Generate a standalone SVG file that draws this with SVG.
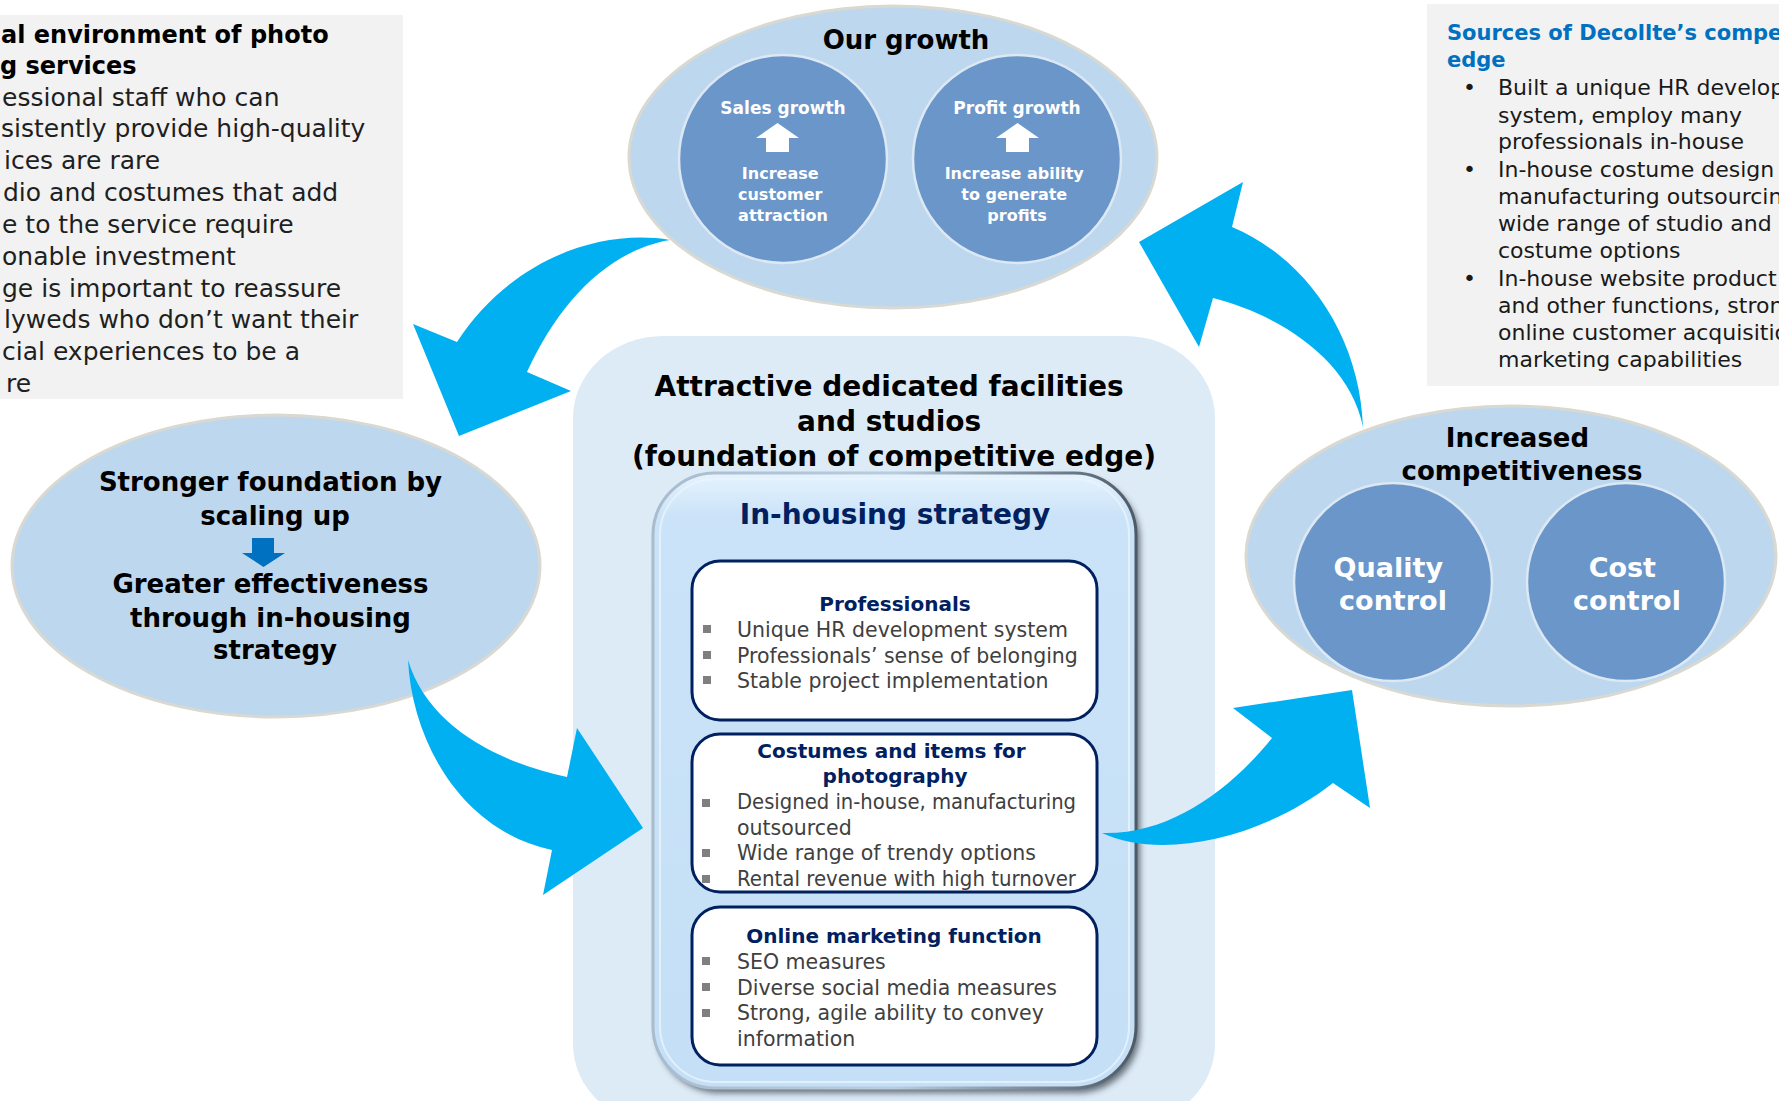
<svg xmlns="http://www.w3.org/2000/svg" width="1779" height="1101" viewBox="0 0 1779 1101">
  <defs>
    <style>
      text { font-family: "DejaVu Sans", Verdana, sans-serif; }
      .bold { font-weight: bold; }
      .mid { text-anchor: middle; }
      .panel { fill: #f2f2f2; }
      .oval { fill: #bdd7ee; stroke: #d9d9d2; stroke-width: 3; }
      .disc { fill: #6a96c9; stroke: #dce8f4; stroke-width: 2.5; }
      .flow { fill: #00b0f0; }
      .card { fill: #ffffff; stroke: #002060; stroke-width: 3; }
      .head { fill: #002060; font-weight: bold; font-size: 20px; text-anchor: middle; }
      .item { fill: #404040; font-size: 20.5px; }
      .sq { fill: #7f7f7f; }
      .big { font-size: 26px; font-weight: bold; text-anchor: middle; fill: #000000; }
      .title { font-size: 28px; font-weight: bold; text-anchor: middle; fill: #000000; }
      .wt { fill: #ffffff; font-weight: bold; text-anchor: middle; }
      .note { font-size: 25px; fill: #1f1f1f; }
      .src { font-size: 22px; fill: #1a1a1a; }
    </style>
    <linearGradient id="inFill" x1="0" y1="0" x2="0" y2="1">
      <stop offset="0" stop-color="#e6f3fd"/>
      <stop offset="0.07" stop-color="#cbe3f8"/>
      <stop offset="1" stop-color="#c4dff6"/>
    </linearGradient>
    <linearGradient id="inEdge" x1="0" y1="0" x2="1" y2="0">
      <stop offset="0" stop-color="#a9bccd"/>
      <stop offset="0.5" stop-color="#b9cde0"/>
      <stop offset="1" stop-color="#4e5a66"/>
    </linearGradient>
    <filter id="drop" x="-10%" y="-10%" width="120%" height="120%">
      <feGaussianBlur stdDeviation="3"/>
    </filter>
  </defs>

  <!-- side notes -->
  <g id="note-environment">
    <rect class="panel" x="0" y="15" width="403" height="384"/>
    <text class="bold" font-size="24" fill="#000000">
      <tspan x="1" y="43">al environment of photo</tspan>
      <tspan x="0" y="74">g services</tspan>
    </text>
    <text class="note">
      <tspan x="2" y="106">essional staff who can</tspan>
      <tspan x="1" y="137">sistently provide high-quality</tspan>
      <tspan x="4" y="169">ices are rare</tspan>
      <tspan x="3" y="201">dio and costumes that add</tspan>
      <tspan x="2" y="233">e to the service require</tspan>
      <tspan x="2" y="265">onable investment</tspan>
      <tspan x="2" y="297">ge is important to reassure</tspan>
      <tspan x="4" y="328">lyweds who don’t want their</tspan>
      <tspan x="2" y="360">cial experiences to be a</tspan>
      <tspan x="6" y="392">re</tspan>
    </text>
  </g>

  <g id="note-sources">
    <rect class="panel" x="1427" y="4" width="352" height="382"/>
    <text class="bold" font-size="21" fill="#0070c0">
      <tspan x="1447" y="40">Sources of Decollte’s compe</tspan>
      <tspan x="1447" y="67">edge</tspan>
    </text>
    <text class="src">
      <tspan x="1463" y="95">•</tspan>
      <tspan x="1463" y="177">•</tspan>
      <tspan x="1463" y="286">•</tspan>
    </text>
    <text class="src">
      <tspan x="1498" y="95">Built a unique HR develop</tspan>
      <tspan x="1498" y="123">system, employ many</tspan>
      <tspan x="1498" y="149">professionals in-house</tspan>
      <tspan x="1498" y="177">In-house costume design</tspan>
      <tspan x="1498" y="204">manufacturing outsourcin</tspan>
      <tspan x="1498" y="231">wide range of studio and</tspan>
      <tspan x="1498" y="258">costume options</tspan>
      <tspan x="1498" y="286">In-house website product</tspan>
      <tspan x="1498" y="313">and other functions, stron</tspan>
      <tspan x="1498" y="340">online customer acquisitio</tspan>
      <tspan x="1498" y="367">marketing capabilities</tspan>
    </text>
  </g>

  <!-- central foundation block -->
  <g id="foundation">
    <rect x="573" y="336" width="642" height="790" rx="90" ry="82" fill="#ddebf7"/>
    <text class="title">
      <tspan x="894" y="396">Attractive dedicated facilities</tspan>
      <tspan x="894" y="431">and studios</tspan>
      <tspan x="894" y="466">(foundation of competitive edge)</tspan>
    </text>
  </g>

  <g id="in-housing">
    <rect x="657" y="478" width="483" height="615" rx="62" fill="#3c4650" opacity="0.75" filter="url(#drop)"/>
    <rect x="653" y="473" width="483" height="615" rx="62" fill="url(#inFill)" stroke="url(#inEdge)" stroke-width="3"/>
    <rect x="660" y="479" width="469" height="603" rx="56" fill="none" stroke="#e9f4fd" stroke-width="2" opacity="0.8"/>
    <text class="mid bold" x="895" y="524" font-size="28" fill="#002060">In-housing strategy</text>
  </g>

  <g id="professionals">
    <rect class="card" x="692" y="561" width="405" height="159" rx="28"/>
    <text class="head" x="895" y="611">Professionals</text>
    <rect class="sq" x="703" y="625" width="8" height="8"/>
    <rect class="sq" x="703" y="651" width="8" height="8"/>
    <rect class="sq" x="703" y="676" width="8" height="8"/>
    <text class="item">
      <tspan x="737" y="637">Unique HR development system</tspan>
      <tspan x="737" y="663">Professionals’ sense of belonging</tspan>
      <tspan x="737" y="688">Stable project implementation</tspan>
    </text>
  </g>

  <g id="costumes">
    <rect class="card" x="692" y="734" width="405" height="158" rx="28"/>
    <text class="head">
      <tspan x="895" y="758">Costumes and items for</tspan>
      <tspan x="895" y="783">photography</tspan>
    </text>
    <rect class="sq" x="702" y="799" width="8" height="8"/>
    <rect class="sq" x="702" y="849" width="8" height="8"/>
    <rect class="sq" x="702" y="875" width="8" height="8"/>
    <text class="item" x="737" y="809" textLength="339" lengthAdjust="spacingAndGlyphs">Designed in-house, manufacturing</text>
    <text class="item" x="737" y="835">outsourced</text>
    <text class="item" x="737" y="860">Wide range of trendy options</text>
    <text class="item" x="737" y="886" textLength="339" lengthAdjust="spacingAndGlyphs">Rental revenue with high turnover</text>
  </g>

  <g id="online-marketing">
    <rect class="card" x="692" y="907" width="405" height="158" rx="28"/>
    <text class="head" x="894" y="943">Online marketing function</text>
    <rect class="sq" x="702" y="957" width="8" height="8"/>
    <rect class="sq" x="702" y="983" width="8" height="8"/>
    <rect class="sq" x="702" y="1009" width="8" height="8"/>
    <text class="item">
      <tspan x="737" y="969">SEO measures</tspan>
      <tspan x="737" y="995">Diverse social media measures</tspan>
      <tspan x="737" y="1020">Strong, agile ability to convey</tspan>
      <tspan x="737" y="1046">information</tspan>
    </text>
  </g>

  <!-- outcome ovals -->
  <g id="our-growth">
    <ellipse class="oval" cx="893" cy="157" rx="264" ry="151"/>
    <text class="big" x="906" y="49">Our growth</text>
    <circle class="disc" cx="783" cy="159" r="104"/>
    <circle class="disc" cx="1017" cy="159" r="104"/>
    <text class="wt" x="783" y="114" font-size="17">Sales growth</text>
    <path d="M766,152 V138 H756 L777.5,123 L799,138 H789 V152 Z" fill="#ffffff"/>
    <text class="wt" font-size="16">
      <tspan x="783" y="179">Increase</tspan>
      <tspan x="783" y="200">customer</tspan>
      <tspan x="783" y="221">attraction</tspan>
    </text>
    <text class="wt" x="1017" y="114" font-size="17">Profit growth</text>
    <path d="M1006,152 V138 H996 L1017.5,123 L1039,138 H1029 V152 Z" fill="#ffffff"/>
    <text class="wt" font-size="16">
      <tspan x="1017" y="179">Increase ability</tspan>
      <tspan x="1017" y="200">to generate</tspan>
      <tspan x="1017" y="221">profits</tspan>
    </text>
  </g>

  <g id="stronger-foundation">
    <ellipse class="oval" cx="276" cy="566" rx="264" ry="151"/>
    <text class="big">
      <tspan x="275" y="491">Stronger foundation by</tspan>
      <tspan x="275" y="525">scaling up</tspan>
    </text>
    <path d="M252,538 H274 V553 H285 L263.5,567 L242,553 H252 Z" fill="#0070c0"/>
    <text class="big">
      <tspan x="275" y="593">Greater effectiveness</tspan>
      <tspan x="275" y="627">through in-housing</tspan>
      <tspan x="275" y="659">strategy</tspan>
    </text>
  </g>

  <g id="competitiveness">
    <ellipse class="oval" cx="1511" cy="556" rx="265" ry="150"/>
    <text class="big">
      <tspan x="1522" y="447">Increased</tspan>
      <tspan x="1522" y="480">competitiveness</tspan>
    </text>
    <circle class="disc" cx="1393" cy="582" r="99"/>
    <circle class="disc" cx="1626" cy="582" r="99"/>
    <text class="wt" font-size="27">
      <tspan x="1393" y="577">Quality</tspan>
      <tspan x="1393" y="610">control</tspan>
    </text>
    <text class="wt" font-size="27">
      <tspan x="1627" y="577">Cost</tspan>
      <tspan x="1627" y="610">control</tspan>
    </text>
  </g>

  <!-- cycle arrows -->
  <g id="connectors">
    <path class="flow" d="M670,240 C600,228 510,260 457,342 L413,324 L459,436 L571,391 L527,372 C560,300 610,250 670,240 Z"/>
    <path class="flow" d="M408,660 C412,740 460,830 552,850 L543,895 L643,828 L577,728 L567,777 C497,762 428,726 408,660 Z"/>
    <path class="flow" d="M1102,833 C1160,860 1260,840 1333,783 L1370,808 L1352,690 L1233,708 L1272,738 C1230,790 1170,835 1102,833 Z"/>
    <path class="flow" d="M1363,427 C1360,340 1310,260 1232,227 L1243,182 L1139,242 L1199,347 L1213,298 C1280,315 1350,360 1363,427 Z"/>
  </g>
</svg>
